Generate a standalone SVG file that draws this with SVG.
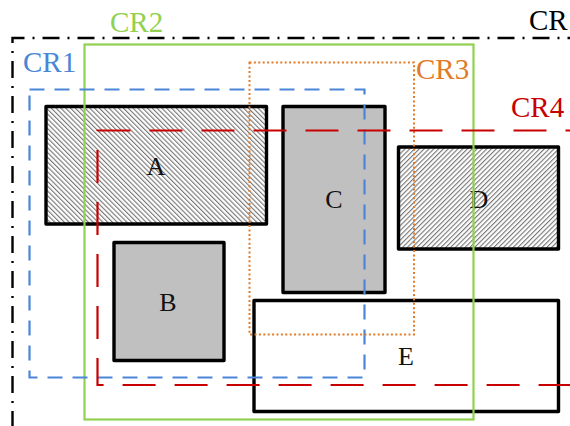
<svg xmlns="http://www.w3.org/2000/svg" width="570" height="426" viewBox="0 0 570 426">
<style>
.box{stroke:#000;stroke-width:3.4;stroke-linejoin:round}
.gray{fill:#c0c0c0}
.lbl{font-family:"Liberation Serif","Times New Roman",serif;font-size:26px;fill:#111;text-anchor:middle}
.crl{font-family:"Liberation Serif","Times New Roman",serif;font-size:29px}
.cr{fill:none}
</style>
<defs>
<pattern id="hatchA" patternUnits="userSpaceOnUse" width="3.4" height="3.4" patternTransform="rotate(-45)">
<rect width="3.4" height="3.4" fill="#fff"/>
<line x1="0.6" y1="0" x2="0.6" y2="3.4" stroke="#666" stroke-width="1"/>
</pattern>
<pattern id="hatchD" patternUnits="userSpaceOnUse" width="3.4" height="3.4" patternTransform="rotate(45)">
<rect width="3.4" height="3.4" fill="#fff"/>
<line x1="0.6" y1="0" x2="0.6" y2="3.4" stroke="#666" stroke-width="1"/>
</pattern>
</defs>
<rect width="570" height="426" fill="#fff"/>

<g id="A"><rect class="box" x="46" y="106.5" width="220.5" height="117.5" fill="url(#hatchA)"/><text class="lbl" x="156" y="175">A</text></g>
<g id="B"><rect class="box gray" x="114" y="242.5" width="110" height="118"/><text class="lbl" x="168" y="311">B</text></g>
<g id="C"><rect class="box gray" x="283" y="106.5" width="102" height="186"/><text class="lbl" x="334" y="208">C</text></g>
<g id="D"><rect class="box" x="398.5" y="147" width="160" height="102" fill="url(#hatchD)"/><text class="lbl" x="479" y="208">D</text></g>
<g id="E"><rect class="box" x="254" y="300.5" width="304.5" height="111" fill="#fff"/><text class="lbl" x="406" y="365">E</text></g>

<g id="connectors">
<g id="CR"><path class="cr" d="M12.5,428 V38 H572" stroke="#000" stroke-width="2.4" stroke-dasharray="17 8 2 8"/><text class="crl" x="529" y="30" fill="#000">CR</text></g>
<g id="CR2"><rect class="cr" x="84.5" y="44.5" width="389" height="375" stroke="#92d050" stroke-width="2.2"/><text class="crl" x="110" y="32" fill="#92d050">CR2</text></g>
<g id="CR1"><rect class="cr" x="29.5" y="89.5" width="335" height="288" stroke="#4a86d8" stroke-width="2.2" stroke-dasharray="15 10"/><text class="crl" x="23" y="72" fill="#4a86d8">CR1</text></g>
<g id="CR3"><rect class="cr" x="249.5" y="62.5" width="164.5" height="272" stroke="#e07b28" stroke-width="2" stroke-dasharray="2 2.4"/><text class="crl" x="416" y="79" fill="#e07b28">CR3</text></g>
<g id="CR4"><rect class="cr" x="97.5" y="130.5" width="473.8" height="254.5" stroke="#c80000" stroke-width="2.2" stroke-dasharray="33 19"/><text class="crl" x="511" y="117" fill="#c80000">CR4</text></g>
</g>
</svg>
